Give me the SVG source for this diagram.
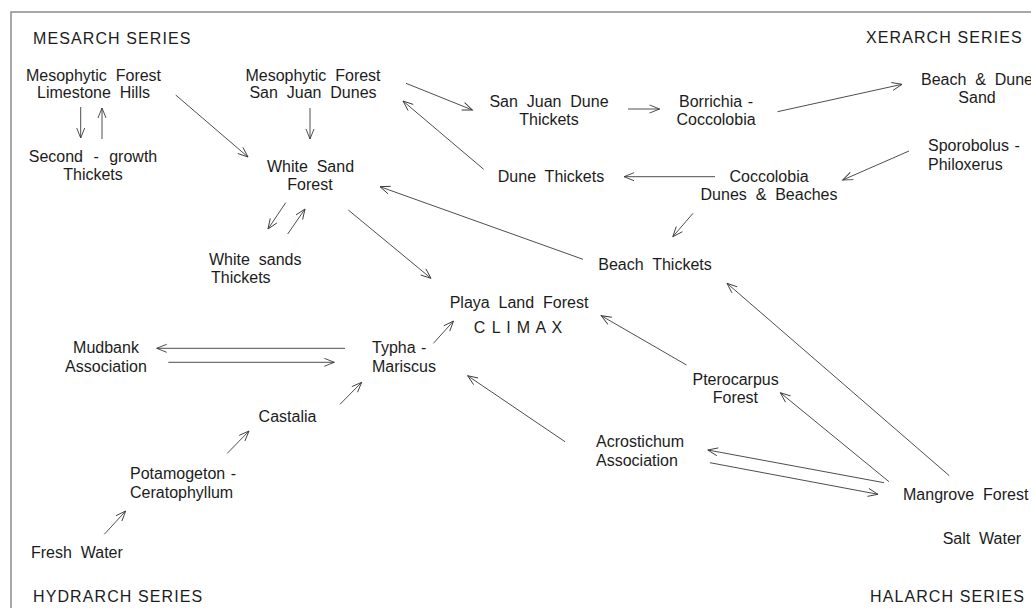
<svg xmlns="http://www.w3.org/2000/svg" width="1031" height="608" viewBox="0 0 1031 608">
<style>
text{font-family:"Liberation Sans",Arial,sans-serif;font-size:16px;fill:#1c1c1c;word-spacing:4.4px}
.m{text-anchor:middle}
.hdr{letter-spacing:1.1px;word-spacing:0}
.s{word-spacing:1px}
.c line{stroke:#3a3a3a;stroke-width:0.9;fill:none;marker-end:url(#ah)}
</style>
<defs>
<marker id="ah" markerUnits="userSpaceOnUse" markerWidth="12" markerHeight="12" refX="10" refY="5" orient="auto" overflow="visible">
<path d="M0,1 L10,5 L0,9" fill="none" stroke="#3a3a3a" stroke-width="0.9"/>
</marker>
</defs>
<rect x="0" y="0" width="1031" height="608" fill="#ffffff"/>
<path d="M11,608 V12 H1031" fill="none" stroke="#8c8c8c" stroke-width="1.5"/>

<g id="headers">
<text class="hdr" x="33" y="43.5">MESARCH SERIES</text>
<text class="hdr" x="866" y="43">XERARCH SERIES</text>
<text class="hdr" x="33" y="602">HYDRARCH SERIES</text>
<text class="hdr" x="870" y="602">HALARCH SERIES</text>
</g>

<g id="mesophytic-limestone"><text class="m" x="93.5" y="80.5">Mesophytic Forest</text><text class="m" x="93.5" y="98">Limestone Hills</text></g>
<g id="second-growth"><text class="m" x="93" y="162" style="word-spacing:6px">Second - growth</text><text class="m" x="93" y="180">Thickets</text></g>
<g id="mesophytic-sanjuan"><text class="m" x="313" y="80.5">Mesophytic Forest</text><text class="m" x="313" y="98">San Juan Dunes</text></g>
<g id="white-sand-forest"><text class="m" x="310.5" y="172">White Sand</text><text class="m" x="310" y="190">Forest</text></g>
<g id="white-sands-thickets"><text x="209" y="265">White sands</text><text x="211" y="283">Thickets</text></g>
<g id="sanjuan-dune-thickets"><text class="m" x="549" y="106.7">San Juan Dune</text><text class="m" x="549" y="125">Thickets</text></g>
<g id="borrichia"><text class="m s" x="716" y="106.7">Borrichia -</text><text class="m" x="716" y="125">Coccolobia</text></g>
<g id="beach-dune-sand"><text x="921" y="85">Beach &amp; Dune</text><text class="m" x="977" y="103.3">Sand</text></g>
<g id="dune-thickets"><text class="m" x="551" y="181.7">Dune Thickets</text></g>
<g id="coccolobia-dunes"><text class="m" x="769" y="181.7">Coccolobia</text><text class="m" x="769" y="200">Dunes &amp; Beaches</text></g>
<g id="sporobolus"><text class="s" x="928" y="150.5">Sporobolus -</text><text x="928" y="169.5">Philoxerus</text></g>
<g id="beach-thickets"><text class="m" x="655" y="270">Beach Thickets</text></g>
<g id="playa-land-forest"><text class="m" x="519" y="308.3">Playa Land Forest</text><text class="m" x="518.5" y="333.3" style="word-spacing:0;letter-spacing:0.9px">C L I M A X</text></g>
<g id="mudbank"><text class="m" x="106" y="353">Mudbank</text><text class="m" x="106" y="371.7">Association</text></g>
<g id="typha"><text class="s" x="372" y="353">Typha -</text><text x="372" y="371.7">Mariscus</text></g>
<g id="castalia"><text class="m" x="287.5" y="421.7">Castalia</text></g>
<g id="potamogeton"><text class="s" x="130" y="479.3">Potamogeton -</text><text x="130" y="497.7">Ceratophyllum</text></g>
<g id="fresh-water"><text x="31" y="557.5">Fresh Water</text></g>
<g id="pterocarpus"><text class="m" x="735.6" y="385">Pterocarpus</text><text class="m" x="735.4" y="403.3">Forest</text></g>
<g id="acrostichum"><text x="596" y="446.7">Acrostichum</text><text x="596" y="465.7">Association</text></g>
<g id="mangrove"><text x="903" y="500">Mangrove Forest</text></g>
<g id="salt-water"><text x="942.7" y="543.5">Salt Water</text></g>

<g id="connectors" class="c">
<line x1="80.7" y1="107" x2="80.7" y2="138"/>
<line x1="102" y1="139" x2="102" y2="108"/>
<line x1="175.7" y1="95" x2="248" y2="157"/>
<line x1="310" y1="108" x2="310" y2="139"/>
<line x1="285.7" y1="202.7" x2="268" y2="229"/>
<line x1="287.7" y1="234" x2="305" y2="209"/>
<line x1="348.3" y1="210" x2="431" y2="278.3"/>
<line x1="583" y1="259.3" x2="380" y2="186.7"/>
<line x1="406" y1="83.3" x2="472.4" y2="110"/>
<line x1="628" y1="109" x2="659.6" y2="109"/>
<line x1="483.7" y1="169.3" x2="403" y2="101"/>
<line x1="777.5" y1="111.7" x2="902" y2="84.3"/>
<line x1="715" y1="176.7" x2="624" y2="176.7"/>
<line x1="909" y1="151" x2="842.7" y2="180"/>
<line x1="693" y1="213.3" x2="672.8" y2="236.7"/>
<line x1="949.3" y1="475.7" x2="727" y2="283.3"/>
<line x1="345" y1="348.3" x2="156.7" y2="348.3"/>
<line x1="168.3" y1="362.3" x2="334.3" y2="362.3"/>
<line x1="340" y1="404.3" x2="361.7" y2="382.3"/>
<line x1="227.3" y1="453.3" x2="249" y2="431"/>
<line x1="104.3" y1="534.3" x2="125.7" y2="511"/>
<line x1="433.4" y1="343.3" x2="453.5" y2="321"/>
<line x1="686.5" y1="365" x2="601.2" y2="315.7"/>
<line x1="565" y1="441.7" x2="467.6" y2="375.7"/>
<line x1="884" y1="482.7" x2="707.8" y2="450"/>
<line x1="709.9" y1="462.7" x2="878" y2="494.3"/>
<line x1="889" y1="481.7" x2="780.3" y2="392.7"/>
</g>
</svg>
